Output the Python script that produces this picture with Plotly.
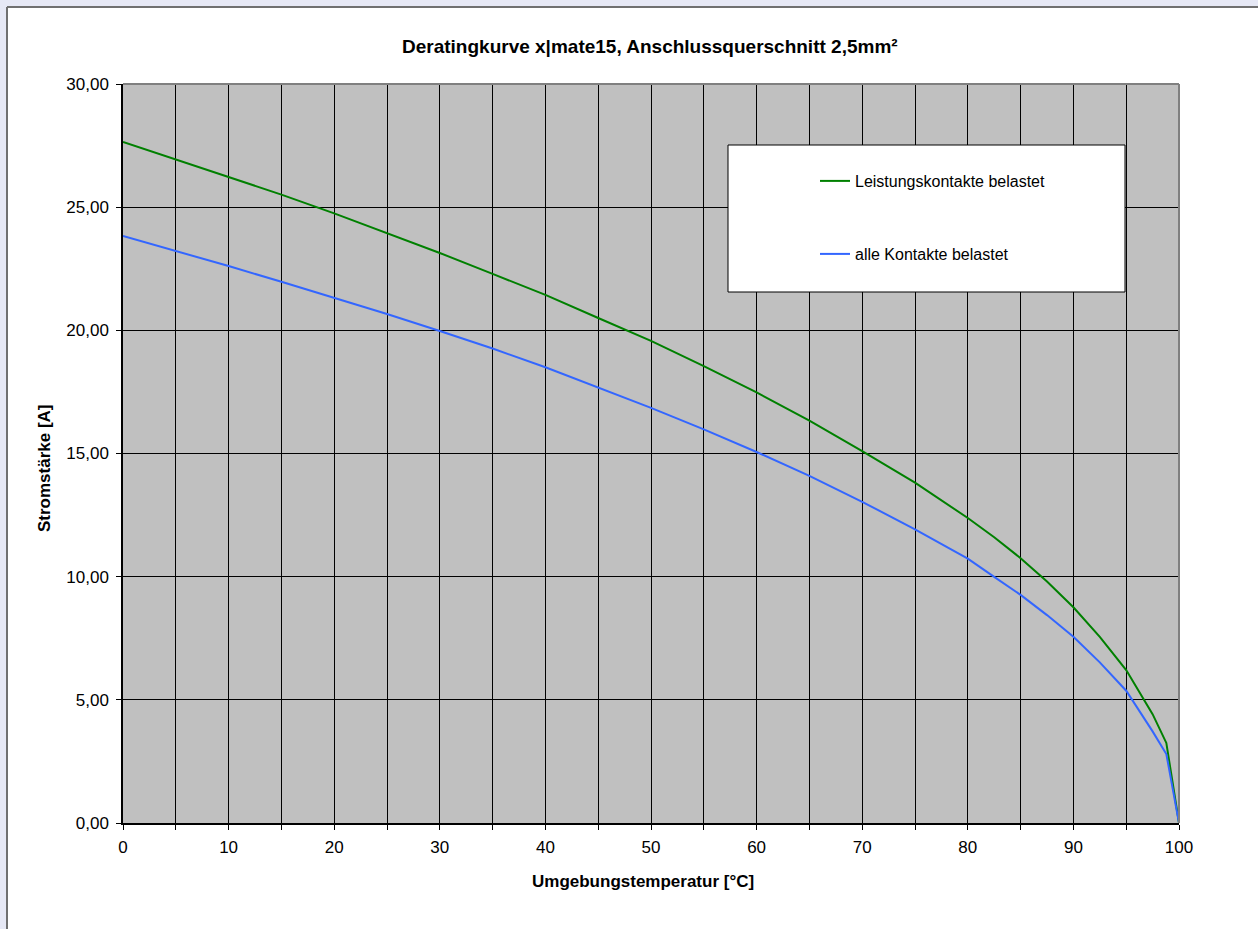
import plotly.graph_objects as go

# ---- data ----
temp = [0, 5, 10, 15, 20, 25, 30, 35, 40, 45, 50, 55, 60, 65, 70, 75, 80, 82.5, 85, 87.5, 90, 92.5, 95, 97.5, 98.8, 100]
leistung = [27.65, 26.94, 26.24, 25.51, 24.75, 23.95, 23.14, 22.29, 21.44, 20.50, 19.57, 18.55, 17.48, 16.33,
            15.10, 13.82, 12.38, 11.60, 10.75, 9.80, 8.76, 7.56, 6.21, 4.42, 3.25, 0.0]
alle = [23.83, 23.23, 22.61, 21.97, 21.33, 20.66, 19.97, 19.26, 18.50, 17.69, 16.85, 15.98, 15.06, 14.09,
        13.04, 11.92, 10.73, 9.99, 9.26, 8.44, 7.56, 6.52, 5.37, 3.72, 2.80, 0.0]

name_green = "Leistungskontakte belastet"
name_blue = "alle Kontakte belastet"
title_text = "Deratingkurve x|mate15, Anschlussquerschnitt 2,5mm²"
x_title = "Umgebungstemperatur [°C]"
y_title = "Stromstärke [A]"

# ---- geometry (pixels) ----
W, H = 1258, 929
L, R, T, B = 123, 1179, 84, 823
PW, PH = R - L, B - T


def px(p):
    return (p - L) / PW


def py(p):
    return (B - p) / PH


FONT = "Liberation Sans, Arial, sans-serif"
LAV = "#E6E8F5"

fig = go.Figure()
fig.add_trace(go.Scatter(x=temp, y=leistung, mode="lines", name=name_green, showlegend=True,
                         line=dict(color="#008000", width=2), legend="legend"))
fig.add_trace(go.Scatter(x=temp, y=alle, mode="lines", name=name_blue, showlegend=True,
                         line=dict(color="#3366FF", width=2), legend="legend2"))

shapes = [
    # lavender page strips + outer chart border
    dict(type="rect", xref="paper", yref="paper", x0=px(-20), x1=px(7), y0=py(H + 50), y1=py(-20),
         fillcolor=LAV, line=dict(width=0), layer="below"),
    dict(type="rect", xref="paper", yref="paper", x0=px(-20), x1=px(W + 20), y0=py(7), y1=py(-20),
         fillcolor=LAV, line=dict(width=0), layer="below"),
    dict(type="line", xref="paper", yref="paper", x0=px(7), x1=px(7), y0=py(7), y1=py(H + 20),
         line=dict(color="#707070", width=2), layer="below"),
    dict(type="line", xref="paper", yref="paper", x0=px(7), x1=px(W + 20), y0=py(7), y1=py(7),
         line=dict(color="#707070", width=2), layer="below"),
    # plot area border (top/right gray)
    dict(type="line", xref="paper", yref="paper", x0=0, x1=1, y0=1, y1=1,
         line=dict(color="#808080", width=2), layer="above"),
    dict(type="line", xref="paper", yref="paper", x0=1, x1=1, y0=0, y1=1,
         line=dict(color="#808080", width=2), layer="above"),
    # legend box
    dict(type="rect", xref="paper", yref="paper", x0=px(728), x1=px(1125), y0=py(292), y1=py(145),
         fillcolor="white", line=dict(color="black", width=1), layer="above"),
]

annotations = [
    dict(text="<b>" + title_text + "</b>", x=px(650), y=py(46), xref="paper", yref="paper",
         showarrow=False, xanchor="center", yanchor="middle", font=dict(size=19, color="black", family=FONT)),
    dict(text="<b>" + x_title + "</b>", x=px(643), y=py(881), xref="paper", yref="paper",
         showarrow=False, xanchor="center", yanchor="middle", font=dict(size=17, color="black", family=FONT)),
    dict(text="<b>" + y_title + "</b>", x=px(44), y=py(468), xref="paper", yref="paper",
         showarrow=False, xanchor="center", yanchor="middle", textangle=-90,
         font=dict(size=17, color="black", family=FONT)),
]

fig.update_layout(
    width=W, height=H,
    margin=dict(l=L, r=W - R, t=T, b=H - B),
    paper_bgcolor="white",
    plot_bgcolor="#C0C0C0",
    separators=",.",
    showlegend=True,
    font=dict(family=FONT, size=17, color="black"),
    shapes=shapes,
    annotations=annotations,
    legend=dict(x=px(815), y=py(181), xanchor="left", yanchor="middle", bgcolor="rgba(0,0,0,0)",
                borderwidth=0, font=dict(size=16, color="black", family=FONT), visible=True),
    legend2=dict(x=px(815), y=py(254), xanchor="left", yanchor="middle", bgcolor="rgba(0,0,0,0)",
                 borderwidth=0, font=dict(size=16, color="black", family=FONT), visible=True),
)

fig.update_xaxes(
    range=[0, 100], dtick=10, tick0=0, showgrid=True, gridcolor="black", gridwidth=1,
    ticks="outside", ticklen=5, tickcolor="black", showline=True, linecolor="black", linewidth=1.5,
    zeroline=False, ticklabelstandoff=3, tickfont=dict(size=17),
    minor=dict(dtick=5, tick0=0, showgrid=True, gridcolor="black", gridwidth=1,
               ticks="outside", ticklen=5, tickcolor="black"),
)
fig.update_yaxes(
    range=[0, 30], dtick=5, tick0=0, tickformat=".2f", showgrid=True, gridcolor="black", gridwidth=1,
    ticks="outside", ticklen=5, tickcolor="black", showline=True, linecolor="black", linewidth=1.5,
    zeroline=False, ticklabelstandoff=4, tickfont=dict(size=17),
)

fig.write_html("out.html", config={"displayModeBar": False},
               post_script="document.body.style.margin='0';document.body.style.background='%s';" % LAV)
